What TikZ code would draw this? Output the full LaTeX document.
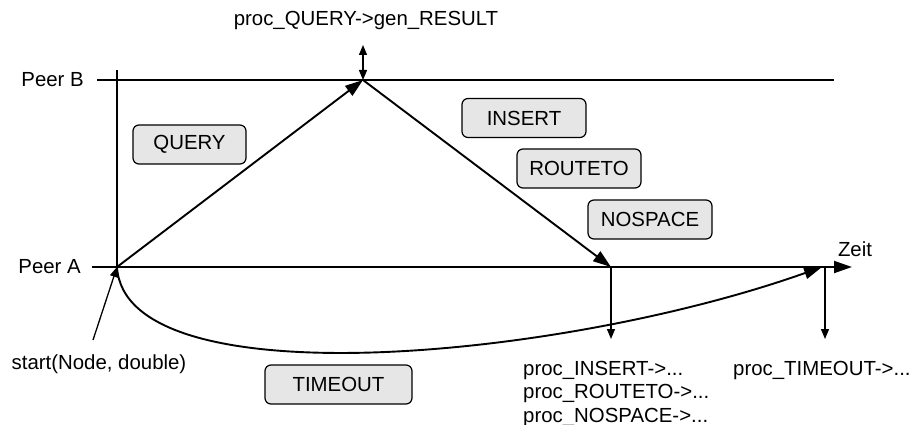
\documentclass[tikz,border=0pt]{standalone}
\usepackage{fontspec}
\setmainfont{Liberation Sans}
\usetikzlibrary{arrows.meta}
\definecolor{boxfill}{HTML}{E6E6E6}
\begin{document}
\begin{tikzpicture}[x=1pt,y=-1pt,
  every node/.style={font=\fontsize{20.4}{23.5}\selectfont, inner sep=0pt},
  msgbox/.style={draw, line width=1.2pt, fill=boxfill, rounded corners=6pt, minimum height=39pt, align=center},
  axis/.style={line width=1.9pt},
  bigarrow/.style={line width=1.9pt, -{Triangle[length=18pt,width=12pt]}},
  thinarrow/.style={line width=1.3pt, -{Triangle[length=10pt,width=8pt]}},
  dblarrow/.style={line width=1.3pt, {Triangle[length=10pt,width=8pt]}-{Triangle[length=10pt,width=8pt]}}]
\useasboundingbox (0,0) rectangle (917,425);

% key points
\coordinate (S) at (117,267);
\coordinate (P) at (363,80);
\coordinate (R) at (611,267);
\coordinate (T) at (822,267);
\coordinate (Tv) at (825,267);
\coordinate (Aend) at (852,267);
\coordinate (Astart) at (92,267);
\coordinate (Bstart) at (97,80);
\coordinate (Bend) at (834,80);
\coordinate (Vtop) at (117,70);
\coordinate (Ptop) at (363,45);
\coordinate (Rdown) at (611,339);
\coordinate (Tdown) at (825,339);
\coordinate (Sfoot) at (93,340);

% labels
\node[anchor=east] (pb) at (84,80) {Peer B};
\node[anchor=east] (pa) at (81,267) {Peer A};
\node (zeit) at (855,249) {Zeit};
\node (qres) at (366,20) {proc\_QUERY->gen\_RESULT};
\node (start) at (99,364) {start(Node, double)};
\node[anchor=base west] (pins) at (523,375) {proc\_INSERT->...};
\node[anchor=base west] (prou) at (523,398.5) {proc\_ROUTETO->...};
\node[anchor=base west] (pnos) at (523,422) {proc\_NOSPACE->...};
\node[anchor=base west] (ptim) at (733,375) {proc\_TIMEOUT->...};

% message boxes
\node[msgbox, minimum width=113pt] (query) at (189.5,144.5) {QUERY};
\node[msgbox, minimum width=124pt] (insert) at (524,118) {INSERT};
\node[msgbox, minimum width=124pt] (routeto) at (579,168.5) {ROUTETO};
\node[msgbox, minimum width=124pt] (nospace) at (650,219.5) {NOSPACE};
\node[msgbox, minimum width=147pt] (timeout) at (338.5,384.5) {TIMEOUT};

% axes
\draw[axis] (Bstart) -- (Bend);
\draw[axis] (Vtop) -- (S);
\draw[bigarrow] (Astart) -- (Aend);

% messages
\draw[bigarrow] (S) -- (P);
\draw[bigarrow] (P) -- (R);
\draw[bigarrow] (S) .. controls (125,400) and (560,360) .. (T);

% thin arrows
\draw[dblarrow] (Ptop) -- (P);
\draw[thinarrow] (R) -- (Rdown);
\draw[thinarrow] (Tv) -- (Tdown);
\draw[thinarrow] (Sfoot) -- (S);
\end{tikzpicture}
\end{document}
